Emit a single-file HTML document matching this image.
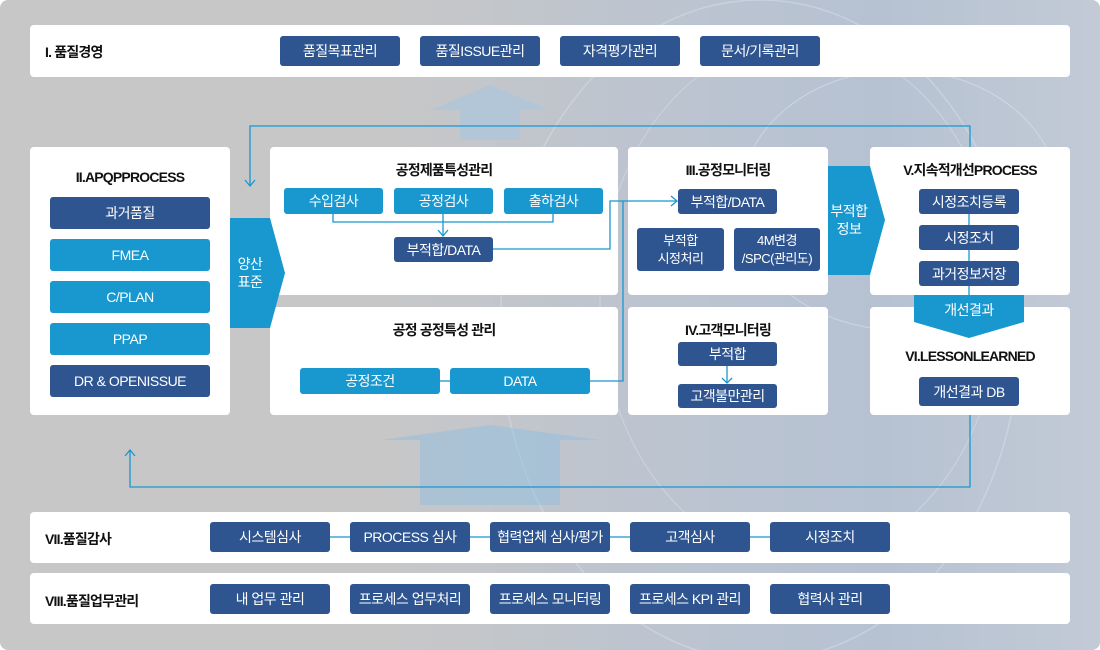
<!DOCTYPE html>
<html><head><meta charset="utf-8"><style>
*{margin:0;padding:0;box-sizing:border-box}
body{width:1100px;height:650px;overflow:hidden;background:#fff;font-family:"Liberation Sans","Noto Sans CJK KR",sans-serif;letter-spacing:-0.5px}
#bg{position:absolute;left:0;top:0;width:1100px;height:650px;border-radius:8px;overflow:hidden;background:linear-gradient(90deg,#c7c7c7 0%,#c7c7c7 35%,#bcc4d0 60%,#b6c2d2 80%,#c2cad6 100%)}
.a{position:absolute}
.p{position:absolute;background:#fff;border-radius:4px}
.b{position:absolute;color:#fff;font-size:14px;display:flex;align-items:center;justify-content:center;text-align:center;border-radius:3px;line-height:18px}
.d{background:#2f5591}
.l{background:#1898cf}
.t{position:absolute;font-size:14px;color:#111;text-align:center;font-weight:bold;letter-spacing:-0.8px}
</style></head><body>
<div id="bg">
<svg class="a" width="1100" height="650" style="left:0;top:0">
<ellipse cx="760" cy="330" rx="260" ry="330" fill="none" stroke="#dfe7f2" stroke-width="1.5" opacity=".4"/>
<ellipse cx="800" cy="300" rx="200" ry="260" fill="none" stroke="#dfe7f2" stroke-width="1.2" opacity=".4"/>
<ellipse cx="900" cy="200" rx="160" ry="130" fill="none" stroke="#e6ecf5" stroke-width="1.2" opacity=".4"/>
<polygon points="430,110 490,85 550,110 520,110 520,140 460,140 460,110" fill="#a9c6e0" opacity=".6"/>
<polygon points="380,440 490,425 600,440 560,440 560,505 420,505 420,440" fill="#8fbde0" opacity=".5"/>
</svg>
<div class="p" style="left:30px;top:25px;width:1040px;height:52px"></div>
<div class="t" style="left:45px;top:42px;text-align:left">I. 품질경영</div>
<div class="b d" style="left:280px;top:36px;width:120px;height:30px">품질목표관리</div>
<div class="b d" style="left:420px;top:36px;width:120px;height:30px">품질ISSUE관리</div>
<div class="b d" style="left:560px;top:36px;width:120px;height:30px">자격평가관리</div>
<div class="b d" style="left:700px;top:36px;width:120px;height:30px">문서/기록관리</div>

<div class="p" style="left:30px;top:147px;width:200px;height:268px"></div>
<div class="t" style="left:30px;top:169px;width:200px">II.APQPPROCESS</div>
<div class="b d" style="left:50px;top:197px;width:160px;height:32px">과거품질</div>
<div class="b l" style="left:50px;top:239px;width:160px;height:32px">FMEA</div>
<div class="b l" style="left:50px;top:281px;width:160px;height:32px">C/PLAN</div>
<div class="b l" style="left:50px;top:323px;width:160px;height:32px">PPAP</div>
<div class="b d" style="left:50px;top:365px;width:160px;height:32px">DR &amp; OPENISSUE</div>

<div class="p" style="left:270px;top:147px;width:348px;height:148px"></div>
<div class="p" style="left:270px;top:307px;width:348px;height:108px"></div>
<div class="p" style="left:628px;top:147px;width:200px;height:148px"></div>
<div class="p" style="left:628px;top:307px;width:200px;height:108px"></div>
<div class="p" style="left:870px;top:147px;width:200px;height:148px"></div>
<div class="p" style="left:870px;top:307px;width:200px;height:108px"></div>

<svg class="a" width="1100" height="650" style="left:0;top:0">
<g fill="none" stroke="#1898cf" stroke-width="1.3">
<polyline points="970,147 970,126 250,126 250,185"/><polyline points="245,180 250,186 255,180"/>
<polyline points="970,415 970,487 130,487 130,451"/><polyline points="125,456 130,450 135,456"/>
<polyline points="333,214 333,222 553,222 553,214"/><line x1="443" y1="214" x2="443" y2="236"/><polyline points="438,230 443,236 448,230"/>
<polyline points="493,249 610,249 610,201 676,201"/><polyline points="671,196 677,201 671,206"/>
<polyline points="590,381 623,381 623,201"/>
<line x1="440" y1="381" x2="450" y2="381"/>
<line x1="727" y1="366" x2="727" y2="383"/><polyline points="722,378 727,383 732,378"/>
<line x1="969" y1="214" x2="969" y2="295"/>
<line x1="330" y1="537" x2="770" y2="537"/>
</g>
<polygon points="230,218 270,218 285,273 270,328 230,328" fill="#1898cf"/>
<polygon points="828,166 870,166 885,220 870,275 828,275" fill="#1898cf"/>
<polygon points="914,295 1024,295 1024,322 969,338 914,322" fill="#1898cf"/>
</svg>
<div class="b" style="left:230px;top:253px;width:40px;height:40px;font-size:14px">양산<br>표준</div>
<div class="b" style="left:826px;top:200px;width:46px;height:40px;font-size:14px">부적합<br>정보</div>
<div class="b" style="left:914px;top:300px;width:110px;height:20px">개선결과</div>

<div class="t" style="left:270px;top:160px;width:348px">공정제품특성관리</div>
<div class="b l" style="left:284px;top:188px;width:99px;height:26px">수입검사</div>
<div class="b l" style="left:394px;top:188px;width:99px;height:26px">공정검사</div>
<div class="b l" style="left:504px;top:188px;width:99px;height:26px">출하검사</div>
<div class="b d" style="left:394px;top:237px;width:99px;height:25px">부적합/DATA</div>
<div class="t" style="left:270px;top:320px;width:348px">공정 공정특성 관리</div>
<div class="b l" style="left:300px;top:368px;width:140px;height:26px">공정조건</div>
<div class="b l" style="left:450px;top:368px;width:140px;height:26px">DATA</div>

<div class="t" style="left:628px;top:160px;width:200px">III.공정모니터링</div>
<div class="b d" style="left:678px;top:189px;width:99px;height:25px">부적합/DATA</div>
<div class="b d" style="left:637px;top:228px;width:87px;height:43px;font-size:13px">부적합<br>시정처리</div>
<div class="b d" style="left:734px;top:228px;width:86px;height:43px;font-size:13px">4M변경<br>/SPC(관리도)</div>
<div class="t" style="left:628px;top:320px;width:200px">IV.고객모니터링</div>
<div class="b d" style="left:678px;top:342px;width:99px;height:24px">부적합</div>
<div class="b d" style="left:678px;top:384px;width:99px;height:24px">고객불만관리</div>

<div class="t" style="left:870px;top:160px;width:200px">V.지속적개선PROCESS</div>
<div class="b d" style="left:919px;top:189px;width:100px;height:25px">시정조치등록</div>
<div class="b d" style="left:919px;top:225px;width:100px;height:25px">시정조치</div>
<div class="b d" style="left:919px;top:261px;width:100px;height:25px">과거정보저장</div>
<div class="t" style="left:870px;top:348px;width:200px">VI.LESSONLEARNED</div>
<div class="b d" style="left:919px;top:377px;width:100px;height:29px">개선결과 DB</div>

<div class="p" style="left:30px;top:512px;width:1040px;height:51px"></div>
<div class="t" style="left:45px;top:529px;text-align:left">VII.품질감사</div>
<div class="b d" style="left:210px;top:522px;width:120px;height:30px">시스템심사</div>
<div class="b d" style="left:350px;top:522px;width:120px;height:30px">PROCESS 심사</div>
<div class="b d" style="left:490px;top:522px;width:120px;height:30px">협력업체 심사/평가</div>
<div class="b d" style="left:630px;top:522px;width:120px;height:30px">고객심사</div>
<div class="b d" style="left:770px;top:522px;width:120px;height:30px">시정조치</div>
<svg class="a" width="1100" height="650" style="left:0;top:0"><g stroke="#1898cf" stroke-width="1.3"><line x1="330" y1="537" x2="350" y2="537"/><line x1="470" y1="537" x2="490" y2="537"/><line x1="610" y1="537" x2="630" y2="537"/><line x1="750" y1="537" x2="770" y2="537"/></g></svg>
<div class="p" style="left:30px;top:573px;width:1040px;height:51px"></div>
<div class="t" style="left:45px;top:591px;text-align:left">VIII.품질업무관리</div>
<div class="b d" style="left:210px;top:584px;width:120px;height:30px">내 업무 관리</div>
<div class="b d" style="left:350px;top:584px;width:120px;height:30px">프로세스 업무처리</div>
<div class="b d" style="left:490px;top:584px;width:120px;height:30px">프로세스 모니터링</div>
<div class="b d" style="left:630px;top:584px;width:120px;height:30px">프로세스 KPI 관리</div>
<div class="b d" style="left:770px;top:584px;width:120px;height:30px">협력사 관리</div>
</div>
</body></html>
